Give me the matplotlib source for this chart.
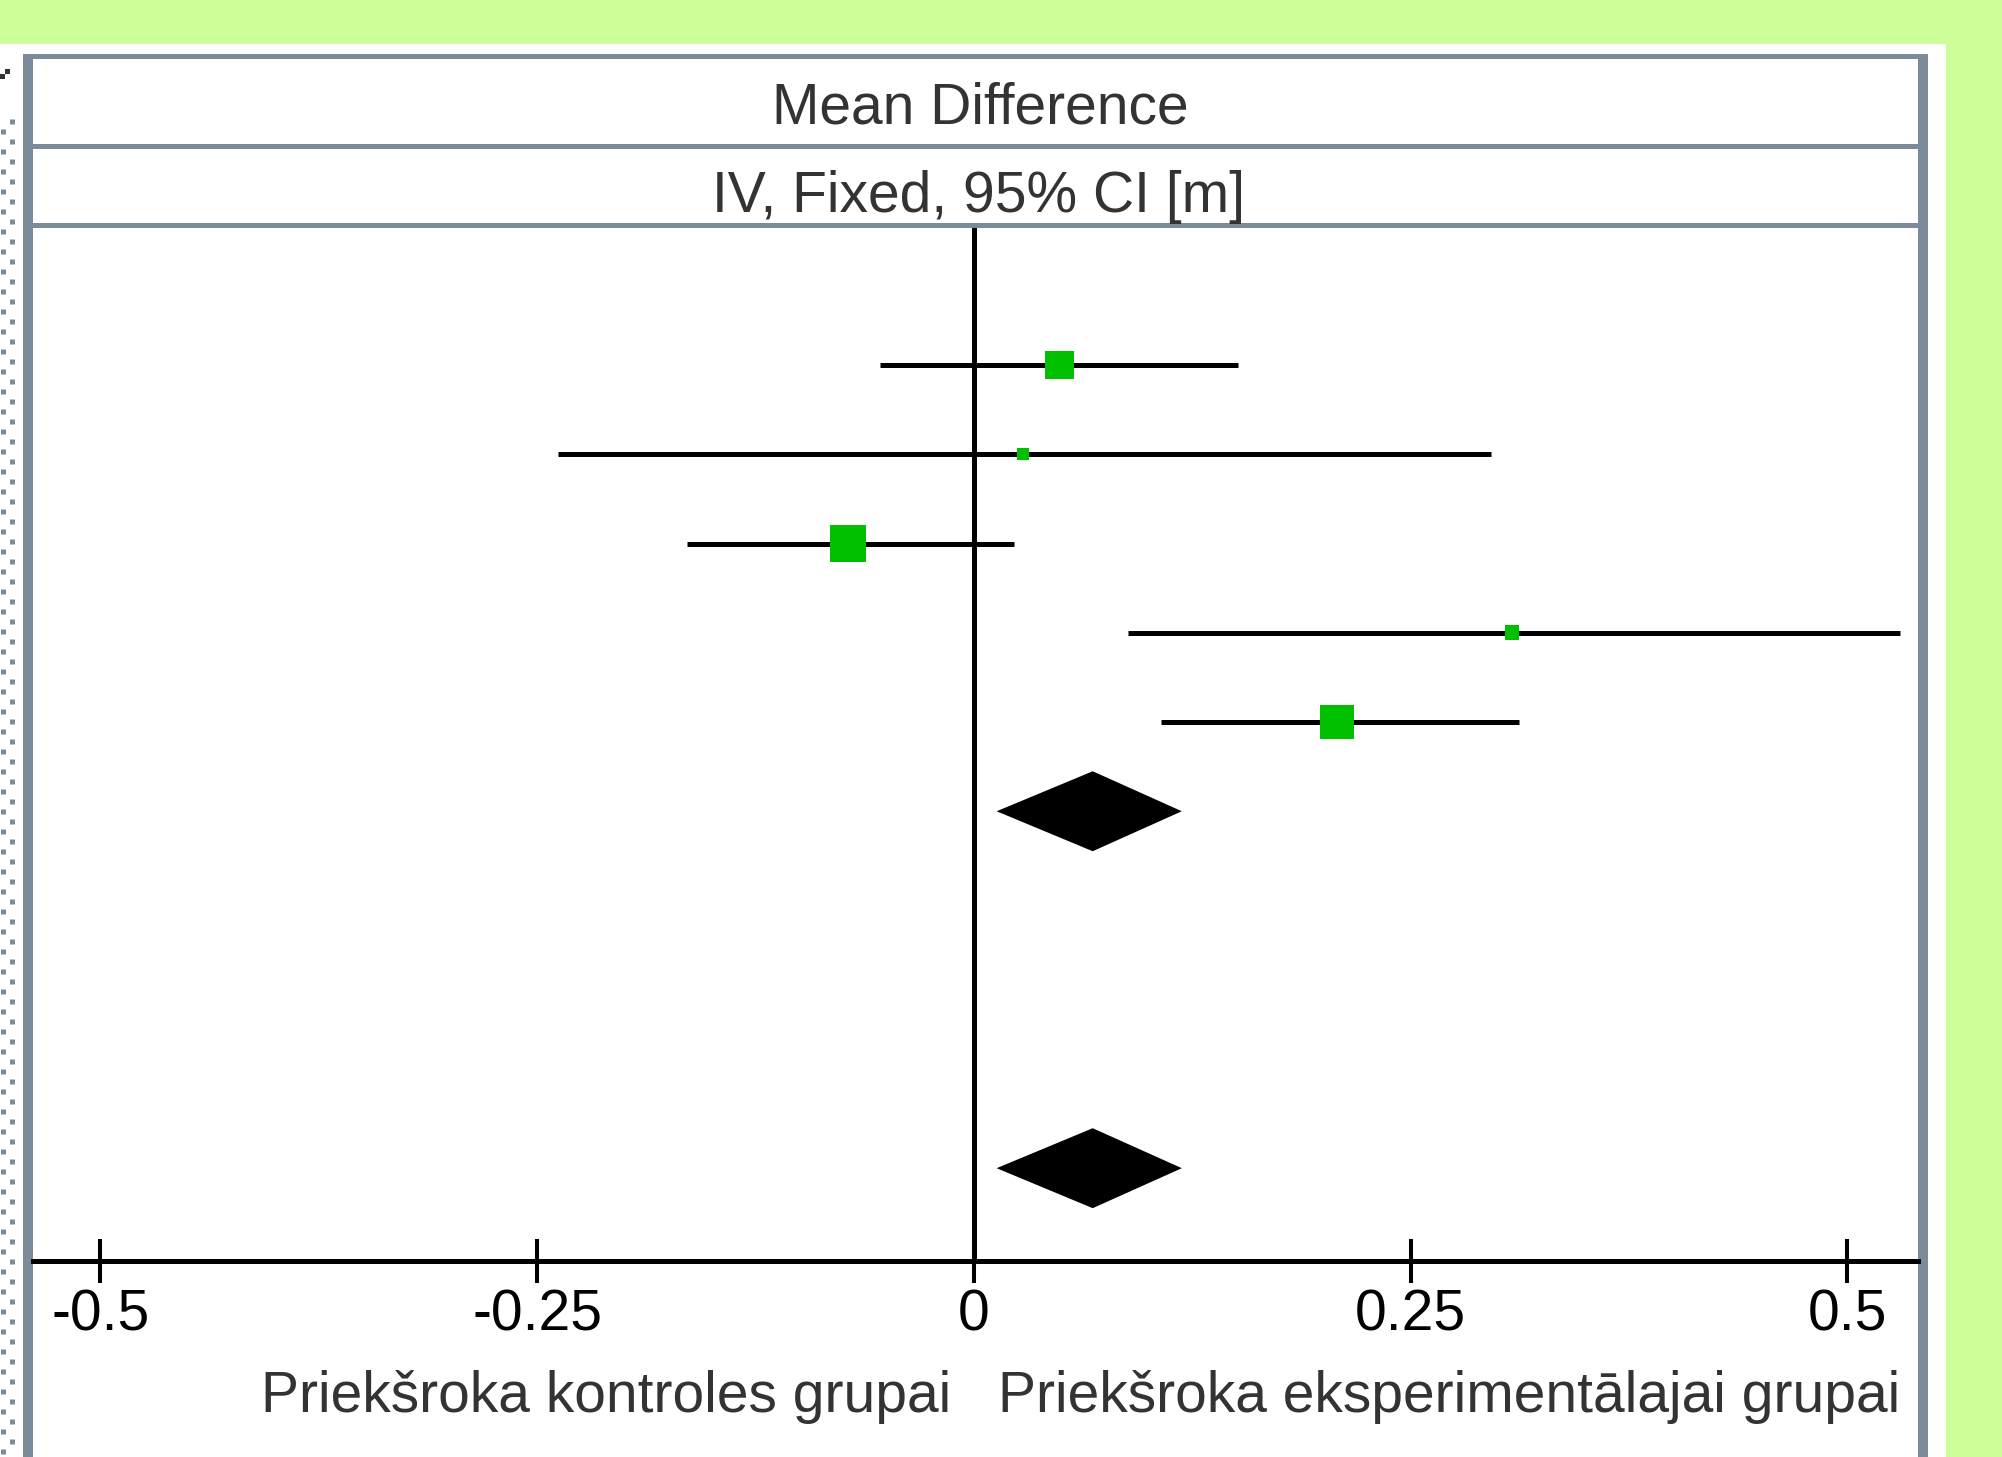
import matplotlib
matplotlib.use('Agg')
import matplotlib.pyplot as plt
from matplotlib.patches import Rectangle, Polygon
from matplotlib.lines import Line2D
from matplotlib import font_manager
import numpy as np

# 数据 (Mean Difference, IV, Fixed, 95% CI)
study_row = [0, 1, 2, 3, 4]
study_est = [0.049, 0.028, -0.072, 0.308, 0.208]
study_lo = [-0.054, -0.238, -0.164, 0.088, 0.107]
study_hi = [0.151, 0.296, 0.023, 0.530, 0.312]
study_weight = [22.7, 3.8, 36.3, 5.9, 31.4]

pooled_row = [5, 9]
pooled_est = [0.068, 0.068]
pooled_lo = [0.013, 0.013]
pooled_hi = [0.119, 0.119]

xticks = [-0.5, -0.25, 0, 0.25, 0.5]
xtick_labels = ['-0.5', '-0.25', '0', '0.25', '0.5']
header1 = 'Mean Difference'
header2 = 'IV, Fixed, 95% CI [m]'
left_label = 'Priekšroka kontroles grupai'
right_label = 'Priekšroka eksperimentālajai grupai'

# 字体
try:
    font_manager.findfont('Liberation Sans Narrow', fallback_to_default=False)
    FONT = ['Liberation Sans Narrow', 'DejaVu Sans']
    FS = 47
except ValueError:
    FONT = ['Liberation Sans', 'DejaVu Sans']
    FS = 41

GREEN_BG = '#CCFF99'
GRAY = '#7B8B9A'
SQUARE = '#00C000'
TEXT = '#333333'

W, H = 2002, 1457


def fx(x):
    return x / W


def fy(y):
    return 1 - y / H


fig = plt.figure(figsize=(W / 100, H / 100), dpi=100, facecolor=GREEN_BG)


def px_rect(x0, y0, x1, y1, color, z=-5):
    fig.add_artist(Rectangle((fx(x0), fy(y1)), fx(x1) - fx(x0), fy(y0) - fy(y1),
                             transform=fig.transFigure, color=color, lw=0, zorder=z))


# 白色面板和边框
px_rect(0, 44, 1946, H, 'white', z=-10)
px_rect(23, 54, 33, H, GRAY)
px_rect(23, 54, 1928, 59, GRAY)
px_rect(1918, 54, 1928, H, GRAY)
px_rect(33, 144, 1918, 149, GRAY)
px_rect(33, 223, 1918, 228, GRAY)
px_rect(5, 69, 10, 74, TEXT)
px_rect(0, 74, 5, 79, TEXT)

# 左侧虚线
for x0, y0 in [(2.5, 129), (12, 119)]:
    fig.add_artist(Line2D([fx(x0), fx(x0)], [fy(y0), fy(H)], transform=fig.transFigure,
                          lw=3.6, color=GRAY, dashes=(1, 3), dash_capstyle='butt',
                          zorder=-5))

# 标题
fig.text(fx(980), fy(123), header1, ha='center', va='baseline', fontsize=FS,
         family=FONT, color=TEXT)
fig.text(fx(979), fy(212), header2, ha='center', va='baseline', fontsize=FS,
         family=FONT, color=TEXT)

# 森林图
ax = fig.add_axes([fx(33), fy(1261), fx(1918) - fx(33), (1261 - 228) / H])
ax.set_facecolor('none')
ax.set_zorder(1)
ax.set_xlim(-0.5386, 0.5404)
ax.set_ylim(10.04, -1.536)

ax.axvline(0, color='k', lw=3.6, zorder=1)
ax.hlines(study_row, study_lo, study_hi, color='k', lw=3.6, zorder=2)
sizes = (np.sqrt(study_weight) * 6.0 * 0.72) ** 2
ax.scatter(study_est, study_row, s=sizes, marker='s', c=SQUARE, lw=0, zorder=3)

for r, e, lo, hi in zip(pooled_row, pooled_est, pooled_lo, pooled_hi):
    ax.add_patch(Polygon([(lo, r), (e, r - 0.448), (hi, r), (e, r + 0.448)],
                         closed=True, color='k', lw=0, zorder=3))

for s in ['top', 'left', 'right']:
    ax.spines[s].set_visible(False)
ax.spines['bottom'].set_linewidth(3.6)
ax.spines['bottom'].set_color('k')
ax.set_yticks([])
ax.set_xticks(xticks)
ax.set_xticklabels(xtick_labels, fontsize=FS, family=FONT, color='k')
ax.tick_params(axis='x', direction='inout', length=31.7, width=2.9, pad=4, color='k')

# 底部说明
fig.text(fx(951), fy(1412), left_label, ha='right', va='baseline', fontsize=FS,
         family=FONT, color=TEXT)
fig.text(fx(998), fy(1412), right_label, ha='left', va='baseline', fontsize=FS,
         family=FONT, color=TEXT)

fig.savefig('out.png', dpi=100, facecolor=fig.get_facecolor())
